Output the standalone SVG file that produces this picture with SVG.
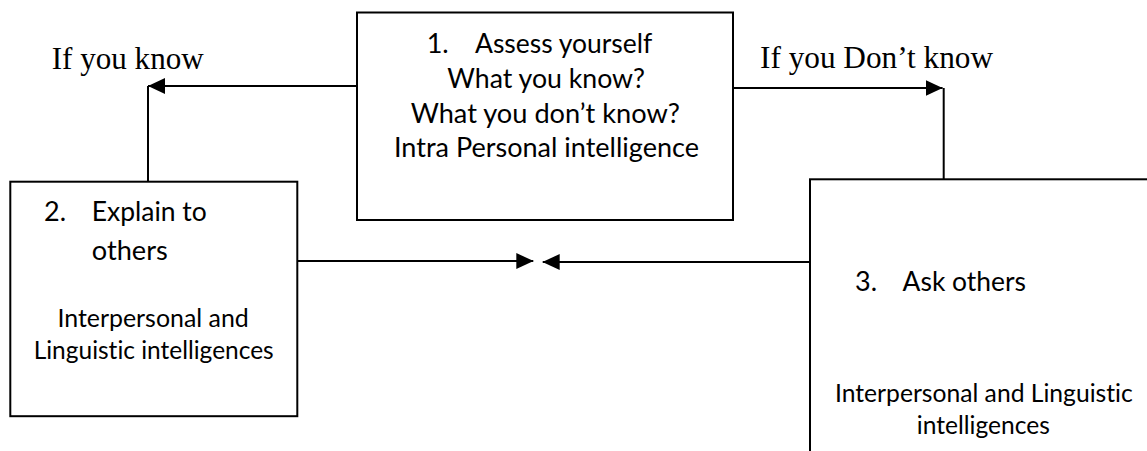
<svg xmlns="http://www.w3.org/2000/svg" width="1147" height="451" viewBox="0 0 1147 451">
  <style>
    .box { fill: #ffffff; stroke: #000000; stroke-width: 2; }
    .line { fill: none; stroke: #000000; stroke-width: 2; }
    .cal { font-family: Lato, "Open Sans", sans-serif; fill: #000000; font-variant-ligatures: none; }
    .big { font-size: 27px; }
    .small { font-size: 24.5px; }
    .serif { font-family: "Liberation Serif", "Times New Roman", serif; font-size: 31px; fill: #000000; }
  </style>
  <defs>
    <marker id="arrow" viewBox="0 0 17 16" refX="17" refY="8" markerWidth="17" markerHeight="16" markerUnits="userSpaceOnUse" orient="auto">
      <path d="M0,0 L17,8 L0,16 Z" fill="#000000"/>
    </marker>
  </defs>
  <rect width="1147" height="451" fill="#ffffff"/>

  <g id="connectors">
    <polyline class="line" points="148,181.7 148,86" />
    <line class="line" x1="357" y1="86" x2="148" y2="86" marker-end="url(#arrow)"/>
    <polyline class="line" points="943.7,88 943.7,179.3"/>
    <line class="line" x1="733" y1="88" x2="942.6" y2="88" marker-end="url(#arrow)"/>
    <line class="line" x1="297" y1="261" x2="533.3" y2="261" marker-end="url(#arrow)"/>
    <line class="line" x1="810" y1="262" x2="542.7" y2="262" marker-end="url(#arrow)"/>
  </g>

  <g id="label-know">
    <text class="serif" x="51.7" y="69" textLength="152" lengthAdjust="spacingAndGlyphs">If you know</text>
  </g>
  <g id="label-dont-know">
    <text class="serif" x="760" y="68" textLength="233" lengthAdjust="spacingAndGlyphs">If you Don’t know</text>
  </g>

  <g id="node-assess">
    <rect class="box" x="357" y="12.5" width="376" height="207.5"/>
    <text class="cal big" x="426.7" y="53">1.</text>
    <text class="cal big" x="475" y="53" textLength="177.3" lengthAdjust="spacingAndGlyphs">Assess yourself</text>
    <text class="cal big" x="447.3" y="87.5" textLength="197.7" lengthAdjust="spacingAndGlyphs">What you know?</text>
    <text class="cal big" x="410.7" y="122.5" textLength="269.3" lengthAdjust="spacingAndGlyphs">What you don’t know?</text>
    <text class="cal big" x="394" y="157" textLength="305" lengthAdjust="spacingAndGlyphs">Intra Personal intelligence</text>
  </g>

  <g id="node-explain">
    <rect class="box" x="10.3" y="181.7" width="287" height="234.5"/>
    <text class="cal big" x="44" y="221">2.</text>
    <text class="cal big" x="91.8" y="221" textLength="115" lengthAdjust="spacingAndGlyphs">Explain to</text>
    <text class="cal big" x="91.8" y="259.8" textLength="76" lengthAdjust="spacingAndGlyphs">others</text>
    <text class="cal small" x="57.4" y="327" textLength="191.4" lengthAdjust="spacingAndGlyphs">Interpersonal and</text>
    <text class="cal small" x="33.7" y="359" textLength="240" lengthAdjust="spacingAndGlyphs">Linguistic intelligences</text>
  </g>

  <g id="node-ask">
    <rect class="box" x="810" y="179.3" width="400" height="320"/>
    <text class="cal big" x="855" y="291">3.</text>
    <text class="cal big" x="902.6" y="291" textLength="123.4" lengthAdjust="spacingAndGlyphs">Ask others</text>
    <text class="cal small" x="835" y="402" textLength="297.8" lengthAdjust="spacingAndGlyphs">Interpersonal and Linguistic</text>
    <text class="cal small" x="916.8" y="434" textLength="133" lengthAdjust="spacingAndGlyphs">intelligences</text>
  </g>
</svg>
